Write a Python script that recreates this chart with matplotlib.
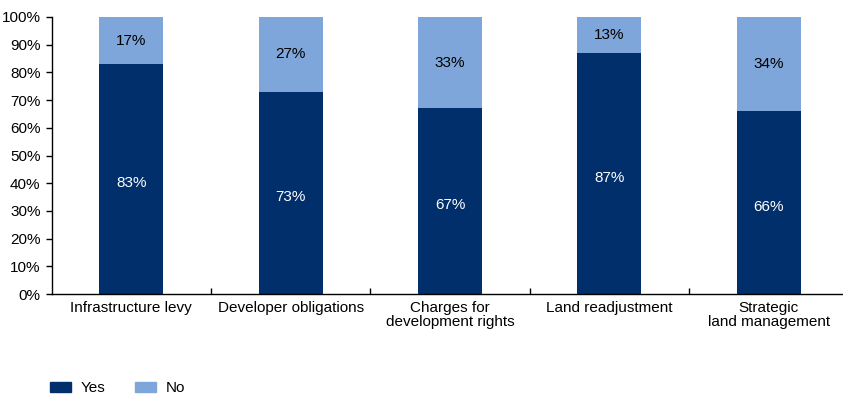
import matplotlib
matplotlib.use("Agg")
import matplotlib.pyplot as plt
from matplotlib.patches import Patch
from matplotlib import font_manager

categories = ["Infrastructure levy", "Developer obligations",
              "Charges for\ndevelopment rights", "Land readjustment",
              "Strategic\nland management"]
yes_vals = [83, 73, 67, 87, 66]
no_vals = [17, 27, 33, 13, 34]
y_ticks = [0, 10, 20, 30, 40, 50, 60, 70, 80, 90, 100]

names = {f.name for f in font_manager.fontManager.ttflist}
fam = ["Liberation Sans Narrow"] if "Liberation Sans Narrow" in names else ["Liberation Sans"]
plt.rcParams["font.family"] = fam + ["DejaVu Sans"]

DARK = "#002F6C"
LIGHT = "#7EA6DA"

W, H = 843, 395
fig = plt.figure(figsize=(W / 100, H / 100), dpi=100)
left, right, bottom, top = 51.7, 848.3, 294, 17
ax = fig.add_axes([left / W, (H - bottom) / H, (right - left) / W, (bottom - top) / H])

x = list(range(len(categories)))
ax.bar(x, yes_vals, width=0.4, color=DARK, label="Yes")
ax.bar(x, no_vals, width=0.4, bottom=yes_vals, color=LIGHT, label="No")

for xi, y, n in zip(x, yes_vals, no_vals):
    ax.text(xi, y / 2 - 1.5, f"{y}%", ha="center", va="center", color="white", fontsize=11)
    ax.text(xi, y + n / 2, f"{n}%", ha="center", va="center", color="black", fontsize=11)

ax.set_xlim(-0.5, len(categories) - 0.5)
ax.set_ylim(0, 100)
ax.set_yticks(y_ticks)
ax.set_yticklabels([f"{t}%" for t in y_ticks], fontsize=11)
ax.tick_params(axis="y", direction="out", length=4, width=1, pad=4)

ax.set_xticks(x)
ax.set_xticklabels(categories, fontsize=11, linespacing=1.05)
ax.tick_params(axis="x", which="major", length=0, pad=5)
ax.set_xticks([i + 0.5 for i in x[:-1]], minor=True)
ax.tick_params(axis="x", which="minor", direction="in", length=4, width=1)

for s in ["top", "right"]:
    ax.spines[s].set_visible(False)
for s in ["left", "bottom"]:
    ax.spines[s].set_linewidth(1)
    ax.spines[s].set_color("black")

handles = [Patch(color=DARK, label="Yes"), Patch(color=LIGHT, label="No")]
fig.legend(handles=handles, loc="lower left", bbox_to_anchor=(36 / W, -14 / H),
           ncol=2, frameon=False, fontsize=11, handlelength=1.4, handleheight=0.7,
           columnspacing=1.9, handletextpad=0.65)

fig.savefig("out.png", dpi=100)
